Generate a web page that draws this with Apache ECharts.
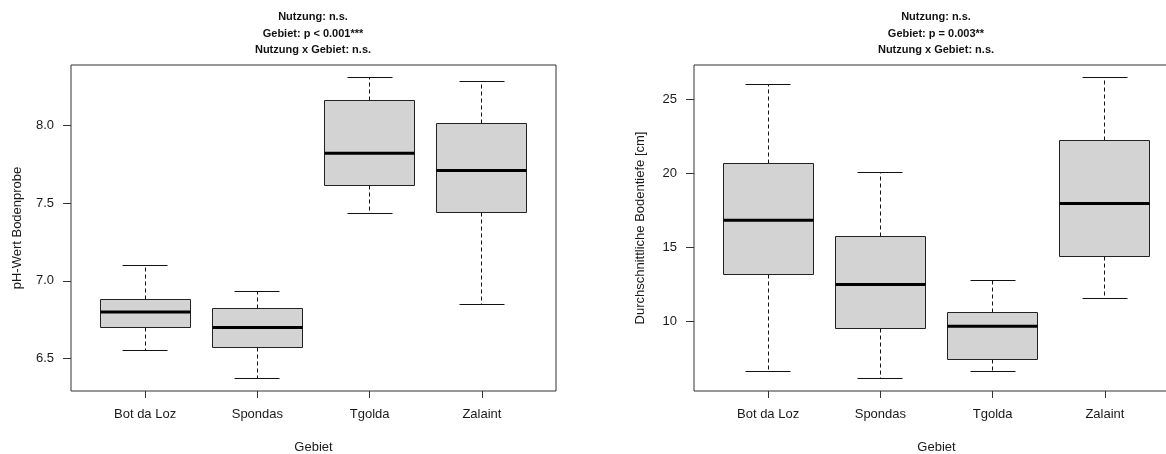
<!DOCTYPE html>
<html>
<head>
<meta charset="utf-8">
<script src="https://cdn.jsdelivr.net/npm/echarts@6/dist/echarts.min.js"></script>
<style>
html,body{margin:0;padding:0;background:#fff;}
#chart{width:1166px;height:454px;}
</style>
</head>
<body>
<div id="chart"></div>
<script>
// ---- data ----
const categories = ['Bot da Loz', 'Spondas', 'Tgolda', 'Zalaint'];

const phLow    = [6.55, 6.37, 7.43, 6.85];
const phQ1     = [6.70, 6.57, 7.61, 7.44];
const phMedian = [6.80, 6.70, 7.82, 7.71];
const phQ3     = [6.88, 6.82, 8.16, 8.01];
const phHigh   = [7.10, 6.93, 8.31, 8.28];

const depthLow    = [6.64, 6.12, 6.64, 11.54];
const depthQ1     = [13.18, 9.53, 7.43, 14.35];
const depthMedian = [16.83, 12.50, 9.68, 17.96];
const depthQ3     = [20.69, 15.75, 10.63, 22.18];
const depthHigh   = [25.97, 20.08, 12.73, 26.49];

const phTicks = [6.5, 7.0, 7.5, 8.0];
const depthTicks = [10, 15, 20, 25];
const categoryTicks = [1, 2, 3, 4];

const phTitle = 'Nutzung: n.s.\nGebiet: p < 0.001***\nNutzung x Gebiet: n.s.';
const depthTitle = 'Nutzung: n.s.\nGebiet: p = 0.003**\nNutzung x Gebiet: n.s.';
const xName = 'Gebiet';
const phYName = 'pH-Wert Bodenprobe';
const depthYName = 'Durchschnittliche Bodentiefe [cm]';

// ---- helpers ----
function rows(lo, q1, md, q3, hi) {
  return categories.map((c, i) => [i + 1, lo[i], q1[i], md[i], q3[i], hi[i]]);
}
function range(lo, hi) {
  const a = Math.min.apply(null, lo), b = Math.max.apply(null, hi);
  const p = (b - a) * 0.04;
  return [a - p, b + p];
}
const phRange = range(phLow, phHigh);
const depthRange = range(depthLow, depthHigh);

const FONT = '"Liberation Sans", Arial, sans-serif';
const TXT = '#1a1a1a';

function px(v) { return Math.round(v - 0.5) + 0.5; }

function renderItem(params, api) {
  const x = api.value(0);
  const c = v => api.coord([x, v]);
  const pLo = c(api.value(1)), pQ1 = c(api.value(2)), pMd = c(api.value(3)),
        pQ3 = c(api.value(4)), pHi = c(api.value(5));
  const half = api.size([0.8, 0])[0] / 2;
  const capHalf = half / 2;
  const cx = px(pMd[0]);
  const solid = { stroke: '#111', lineWidth: 1, fill: null };
  const dashed = { stroke: '#111', lineWidth: 1, lineDash: [4, 3], fill: null };
  const yHi = px(pHi[1]), yLo = px(pLo[1]), yQ1 = px(pQ1[1]), yQ3 = px(pQ3[1]);
  const bl = px(pMd[0] - half), br = px(pMd[0] + half);
  return {
    type: 'group',
    children: [
      { type: 'line', shape: { x1: cx, y1: yQ3, x2: cx, y2: yHi }, style: dashed },
      { type: 'line', shape: { x1: cx, y1: yQ1, x2: cx, y2: yLo }, style: dashed },
      { type: 'line', shape: { x1: px(pMd[0] - capHalf), y1: yHi, x2: px(pMd[0] + capHalf), y2: yHi }, style: solid },
      { type: 'line', shape: { x1: px(pMd[0] - capHalf), y1: yLo, x2: px(pMd[0] + capHalf), y2: yLo }, style: solid },
      { type: 'rect', shape: { x: bl, y: yQ3, width: br - bl, height: yQ1 - yQ3 },
        style: { fill: '#d3d3d3', stroke: '#222', lineWidth: 1 } },
      { type: 'line', shape: { x1: bl, y1: pMd[1], x2: br, y2: pMd[1] },
        style: { stroke: '#000', lineWidth: 3 } }
    ]
  };
}

function xAxis(gridIndex) {
  return {
    type: 'value', gridIndex: gridIndex, min: 0.34, max: 4.66,
    name: xName, nameLocation: 'middle', nameGap: 50,
    nameTextStyle: { fontFamily: FONT, fontSize: 13, color: TXT },
    axisLine: { show: false },
    splitLine: { show: false },
    axisTick: { show: true, length: 7, customValues: categoryTicks, lineStyle: { color: '#333', width: 1 } },
    axisLabel: { customValues: categoryTicks, margin: 17, fontFamily: FONT, fontSize: 13, color: TXT,
      formatter: v => categories[Math.round(v) - 1] || '' }
  };
}
function yAxis(gridIndex, r, ticks, name, dec) {
  return {
    type: 'value', gridIndex: gridIndex, min: r[0], max: r[1],
    name: name, nameLocation: 'middle', nameGap: 47,
    nameTextStyle: { fontFamily: FONT, fontSize: 13, color: TXT },
    axisLine: { show: false },
    splitLine: { show: false },
    axisTick: { show: true, length: 8, customValues: ticks, lineStyle: { color: '#333', width: 1 } },
    axisLabel: { customValues: ticks, margin: 17, fontFamily: FONT, fontSize: 13, color: TXT,
      formatter: v => v.toFixed(dec) }
  };
}

const chart = echarts.init(document.getElementById('chart'), null, { renderer: 'canvas' });
chart.setOption({
  backgroundColor: '#fff',
  animation: false,
  title: [
    { text: phTitle, left: 313, top: 9, padding: 0, textAlign: 'center',
      textStyle: { fontFamily: FONT, fontSize: 11, fontWeight: 'bold', color: '#111', lineHeight: 16.5 } },
    { text: depthTitle, left: 936, top: 9, padding: 0, textAlign: 'center',
      textStyle: { fontFamily: FONT, fontSize: 11, fontWeight: 'bold', color: '#111', lineHeight: 16.5 } }
  ],
  grid: [
    { left: 71, width: 485, top: 65, bottom: 63, outerBoundsMode: 'none', containLabel: false,
      show: true, borderColor: '#333', borderWidth: 1, backgroundColor: 'transparent' },
    { left: 694, width: 485, top: 65, bottom: 63, outerBoundsMode: 'none', containLabel: false,
      show: true, borderColor: '#333', borderWidth: 1, backgroundColor: 'transparent' }
  ],
  xAxis: [xAxis(0), xAxis(1)],
  yAxis: [
    yAxis(0, phRange, phTicks, phYName, 1),
    yAxis(1, depthRange, depthTicks, depthYName, 0)
  ],
  series: [
    { type: 'custom', xAxisIndex: 0, yAxisIndex: 0, renderItem: renderItem,
      encode: { x: 0, y: [1, 2, 3, 4, 5] }, data: rows(phLow, phQ1, phMedian, phQ3, phHigh) },
    { type: 'custom', xAxisIndex: 1, yAxisIndex: 1, renderItem: renderItem,
      encode: { x: 0, y: [1, 2, 3, 4, 5] }, data: rows(depthLow, depthQ1, depthMedian, depthQ3, depthHigh) }
  ]
});
</script>
</body>
</html>
